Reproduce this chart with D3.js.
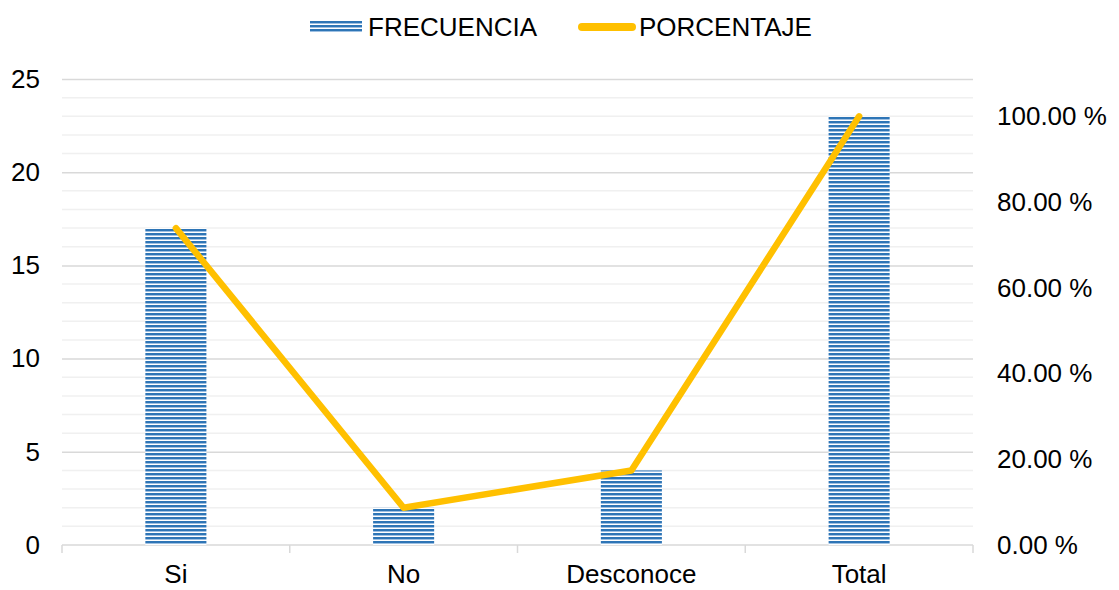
<!DOCTYPE html>
<html>
<head>
<meta charset="utf-8">
<script src="https://cdn.jsdelivr.net/npm/d3@7/dist/d3.min.js"></script>
<style>
  html, body { margin: 0; padding: 0; background: #fff; }
  svg { display: block; font-family: "Liberation Sans", Arial, sans-serif; }
</style>
</head>
<body>
<svg id="chart" width="1119" height="590"></svg>
<script>
// Responses and their counts / shares
const categories = ["Si", "No", "Desconoce", "Total"];
const frecuencia = [17, 2, 4, 23];
const porcentaje = [73.91, 8.70, 17.39, 100.00];

const leftTicks = [0, 5, 10, 15, 20, 25];
const rightTicks = [0, 20, 40, 60, 80, 100];
const leftMax = 25;
const rightMax = 108.7;

const svg = d3.select("#chart");
const plot = { left: 62, right: 973, top: 79, bottom: 545 };
const fontSize = 26;

const x = d3.scaleBand().domain(categories).range([plot.left, plot.right]).paddingInner(0.732).paddingOuter(0.366);
const xOuter = d3.scaleBand().domain(categories).range([plot.left, plot.right]);
const yL = d3.scaleLinear().domain([0, leftMax]).range([plot.bottom, plot.top]);
const yR = d3.scaleLinear().domain([0, rightMax]).range([plot.bottom, plot.top]);

// Striped fill for the bars
const defs = svg.append("defs");
const pat = defs.append("pattern").attr("id", "stripes")
  .attr("patternUnits", "userSpaceOnUse").attr("width", 8).attr("height", 4)
  .attr("y", plot.bottom);
pat.append("rect").attr("width", 8).attr("height", 4).attr("fill", "#ffffff");
pat.append("rect").attr("y", 0).attr("width", 8).attr("height", 2).attr("fill", "#2e75b6");
pat.append("rect").attr("y", 2).attr("width", 8).attr("height", 1).attr("fill", "#9ec0e2");

// Minor gridlines (every unit) and major gridlines
const minor = d3.range(1, leftMax).filter(v => v % 5 !== 0);
svg.append("g").selectAll("line").data(minor).join("line")
  .attr("x1", plot.left).attr("x2", plot.right)
  .attr("y1", d => yL(d)).attr("y2", d => yL(d))
  .attr("stroke", "#f0f0f0").attr("stroke-width", 1.5);

const gridL = d3.axisLeft(yL).tickValues(leftTicks.filter(v => v > 0))
  .tickSize(-(plot.right - plot.left)).tickFormat("");
svg.append("g").attr("transform", `translate(${plot.left},0)`).call(gridL)
  .call(g => g.select(".domain").remove())
  .call(g => g.selectAll("line").attr("stroke", "#d9d9d9").attr("stroke-width", 1.5));

// Category axis
const xAxis = d3.axisBottom(xOuter).tickSize(0).tickFormat("");
svg.append("g").attr("transform", `translate(0,${plot.bottom})`).call(xAxis)
  .call(g => g.select(".domain").attr("stroke", "#d9d9d9").attr("stroke-width", 1.5)
    .attr("d", `M${plot.left},0H${plot.right}`));
svg.append("g").selectAll("line")
  .data(categories.map(c => xOuter(c)).concat([plot.right]))
  .join("line")
  .attr("x1", d => d).attr("x2", d => d)
  .attr("y1", plot.bottom).attr("y2", plot.bottom + 8)
  .attr("stroke", "#d9d9d9").attr("stroke-width", 1.5);

svg.append("g").selectAll("text").data(categories).join("text")
  .attr("x", d => xOuter(d) + xOuter.bandwidth() / 2)
  .attr("y", 583)
  .attr("text-anchor", "middle")
  .attr("font-size", fontSize).attr("fill", "#000")
  .text(d => d);

// Left value axis labels
const leftAxis = d3.axisLeft(yL).tickValues(leftTicks).tickSize(0).tickPadding(22);
svg.append("g").attr("transform", `translate(${plot.left},0)`).call(leftAxis)
  .call(g => g.select(".domain").remove())
  .call(g => g.selectAll("text").attr("font-size", fontSize).attr("fill", "#000")
    .attr("font-family", "Liberation Sans, Arial, sans-serif"));

// Right percentage axis labels
const rightAxis = d3.axisRight(yR).tickValues(rightTicks).tickSize(0).tickPadding(24)
  .tickFormat(d => d3.format(".2f")(d) + " %");
svg.append("g").attr("transform", `translate(${plot.right},0)`).call(rightAxis)
  .call(g => g.select(".domain").remove())
  .call(g => g.selectAll("text").attr("font-size", fontSize).attr("fill", "#000")
    .attr("font-family", "Liberation Sans, Arial, sans-serif"));

// Bars
svg.append("g").selectAll("rect").data(categories).join("rect")
  .attr("x", d => x(d))
  .attr("width", x.bandwidth())
  .attr("y", (d, i) => yL(frecuencia[i]))
  .attr("height", (d, i) => plot.bottom - yL(frecuencia[i]))
  .attr("fill", "url(#stripes)");

// Percentage line
const line = d3.line()
  .x((d, i) => xOuter(categories[i]) + xOuter.bandwidth() / 2)
  .y(d => yR(d));
svg.append("path").datum(porcentaje)
  .attr("d", line)
  .attr("fill", "none")
  .attr("stroke", "#ffc000")
  .attr("stroke-width", 6.5)
  .attr("stroke-linecap", "round")
  .attr("stroke-linejoin", "round");

// Legend
const lg = svg.append("g");
lg.append("rect").attr("x", 310).attr("y", 20).attr("width", 52).attr("height", 13)
  .attr("fill", "url(#stripes)");
lg.append("text").attr("x", 368).attr("y", 36).attr("font-size", fontSize).attr("fill", "#000")
  .text("FRECUENCIA");
lg.append("line").attr("x1", 582).attr("x2", 632).attr("y1", 27).attr("y2", 27)
  .attr("stroke", "#ffc000").attr("stroke-width", 8).attr("stroke-linecap", "round");
lg.append("text").attr("x", 639).attr("y", 36).attr("font-size", fontSize).attr("fill", "#000")
  .text("PORCENTAJE");
</script>
</body>
</html>
